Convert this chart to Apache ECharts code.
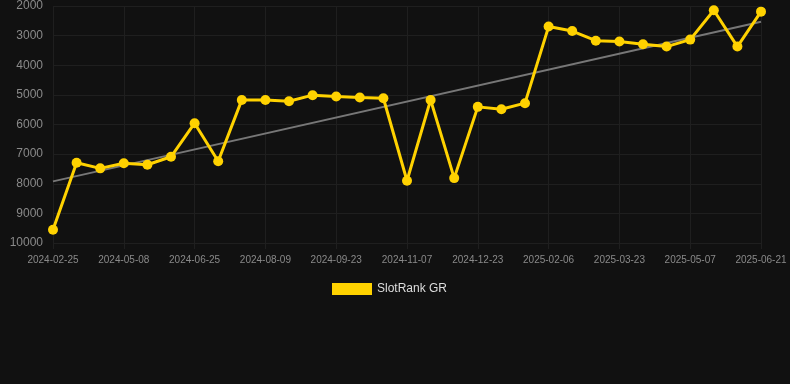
<!DOCTYPE html>
<html>
<head>
<meta charset="utf-8">
<script src="https://cdn.jsdelivr.net/npm/echarts@6/dist/echarts.min.js"></script>
<style>
  html, body { margin: 0; padding: 0; background: #111111; }
  #chart { width: 790px; height: 384px; }
</style>
</head>
<body>
<div id="chart"></div>
<script>
// dates: only every 3rd one is shown on the axis
const dates = [
    '2024-02-25', '2024-03-20', '2024-04-14', '2024-05-08', '2024-05-24', '2024-06-09',
    '2024-06-25', '2024-07-10', '2024-07-25', '2024-08-09', '2024-08-24', '2024-09-08',
    '2024-09-23', '2024-10-08', '2024-10-23', '2024-11-07', '2024-11-22', '2024-12-08',
    '2024-12-23', '2025-01-07', '2025-01-22', '2025-02-06', '2025-02-20', '2025-03-08',
    '2025-03-23', '2025-04-07', '2025-04-22', '2025-05-07', '2025-05-22', '2025-06-06',
    '2025-06-21'
]
const rank = [
    9550, 7290, 7480, 7305, 7360, 7090, 5955, 7240, 5170, 5170, 5215,
    5010, 5055, 5090, 5115, 7900, 5170, 7810, 5405, 5485, 5280,
    2695, 2845, 3170, 3200, 3290, 3370, 3135, 2145, 3370, 2190
]
// trend line end points
const trendStart = 7920
const trendEnd = 2530

const gridColor = '#1f1f1f'
const labelColor = '#8a8a8a'
const font = 'Liberation Sans, Arial, sans-serif'

const chart = echarts.init(document.getElementById('chart'))
chart.setOption({
    backgroundColor: '#111111',
    animation: false,
    grid: {
        left: 53,
        right: 29,
        top: 6,
        bottom: 141,
        containLabel: false
    },
    legend: {
        top: 278,
        left: 327,
        itemWidth: 40,
        itemHeight: 12,
        icon: 'rect',
        textStyle: { color: '#dddddd', fontSize: 12, fontFamily: font },
        data: ['SlotRank GR']
    },
    xAxis: {
        type: 'category',
        boundaryGap: false,
        data: dates,
        axisLine: { show: false },
        axisTick: {
            show: true,
            interval: 2,
            length: 6,
            lineStyle: { color: gridColor }
        },
        axisLabel: {
            interval: 2,
            color: labelColor,
            fontSize: 10,
            margin: 12,
            fontFamily: font
        },
        splitLine: {
            show: true,
            interval: 2,
            lineStyle: { color: gridColor, width: 1 }
        }
    },
    yAxis: {
        type: 'value',
        inverse: true,
        min: 2000,
        max: 10000,
        interval: 1000,
        axisLine: { show: false },
        axisTick: { show: false },
        axisLabel: {
            color: labelColor,
            fontSize: 12,
            margin: 10,
            fontFamily: font,
            formatter: v => String(v)
        },
        splitLine: { lineStyle: { color: gridColor, width: 1 } }
    },
    series: [
        {
            name: 'Trend',
            type: 'line',
            data: dates.map((d, i) => i === 0 ? trendStart : (i === dates.length - 1 ? trendEnd : null)),
            connectNulls: true,
            symbol: 'none',
            lineStyle: { color: '#777777', width: 2 },
            z: 1
        },
        {
            name: 'SlotRank GR',
            type: 'line',
            data: rank,
            symbol: 'circle',
            symbolSize: 10,
            itemStyle: { color: '#ffd200' },
            lineStyle: { color: '#ffd200', width: 3 },
            z: 3
        }
    ]
})
</script>
</body>
</html>
